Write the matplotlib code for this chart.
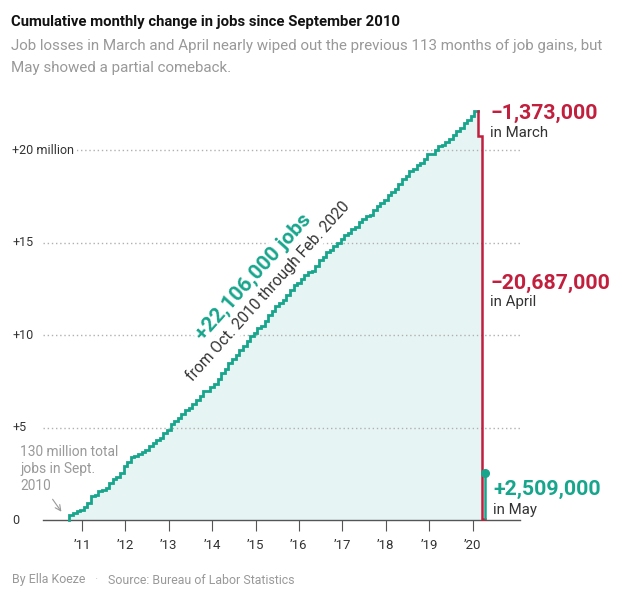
import numpy as np
import matplotlib.pyplot as plt

# monthly change in payroll jobs, thousands (Oct 2010 - May 2020)
gains_2010 = [264, 130, 88]
gains_2011 = [42, 178, 225, 346, 77, 225, 69, 110, 246, 202, 146, 209]
gains_2012 = [358, 237, 233, 78, 115, 76, 143, 177, 203, 146, 132, 244]
gains_2013 = [190, 311, 135, 192, 218, 176, 139, 236, 185, 196, 272, 45]
gains_2014 = [187, 168, 272, 330, 236, 286, 249, 213, 250, 221, 275, 261]
gains_2015 = [164, 265, 98, 278, 338, 191, 291, 158, 150, 307, 229, 267]
gains_2016 = [126, 234, 231, 163, 46, 245, 332, 159, 255, 136, 202, 153]
gains_2017 = [246, 191, 115, 197, 145, 229, 190, 186, 18, 265, 217, 171]
gains_2018 = [176, 262, 157, 175, 251, 285, 165, 283, 91, 241, 103, 216]
gains_2019 = [268, 1, 201, 194, 66, 185, 153, 223, 199, 171, 261, 184]
gains_2020 = [214, 251]
pandemic = [-1373, -20687, 2509]   # March, April, May 2020

year_ticks = list(range(2011, 2021))
year_labels = ["\u2019" + str(y)[2:] for y in year_ticks]
y_ticks = [5, 10, 15, 20]
y_labels = ["+5", "+10", "+15", "+20 million"]

teal = "#17a58c"
red = "#c11f3d"
fill_c = "#e6f5f3"
gray = "#999999"
dark = "#333333"

plt.rcParams['font.family'] = ['Roboto', 'DejaVu Sans']

all_gains = (gains_2010 + gains_2011 + gains_2012 + gains_2013 + gains_2014 + gains_2015
             + gains_2016 + gains_2017 + gains_2018 + gains_2019 + gains_2020 + pandemic)
cum = np.concatenate([[0], np.cumsum(all_gains)]) / 1000.0
# mid-month positions starting Sept 2010
t = 2010 + (8 + np.arange(len(cum)) + 0.5) / 12
feb = len(cum) - 4   # index of Feb 2020

W, H = 622, 596
fig = plt.figure(figsize=(W / 100, H / 100), dpi=100)
renderer = fig.canvas.get_renderer()


def fx(px):
    return px / W


def fy(py):
    return 1 - py / H


def fit(s, width_px, weight='normal'):
    # font size that makes the string about width_px wide
    tmp = fig.text(0, 0, s, fontsize=10, fontweight=weight)
    w = tmp.get_window_extent(renderer).width
    tmp.remove()
    return 10 * width_px / w


# axes: x pixels 43..520, y=0 at pixel 520, 18.5 px per million
top_px = 100
ax = fig.add_axes([fx(43), fy(520), fx(520) - fx(43), fy(top_px) - fy(520)])
ax.set_xlim(2011 - (82 - 43) / 43.4, 2011 + (520 - 82) / 43.4)
ax.set_ylim(0, (520 - top_px) / 18.5)

ax.fill_between(t[:feb + 2], cum[:feb + 2], step='pre', color=fill_c, lw=0, zorder=1)
for yv in y_ticks:
    ax.axhline(yv, color="#b0b0b0", lw=1, ls=(0, (1, 2)), zorder=1.5)

ax.plot(t[:feb + 1], cum[:feb + 1], drawstyle='steps-pre', color=teal, lw=2,
        zorder=3, clip_on=False, solid_joinstyle='miter')
ax.plot(t[feb:feb + 3], cum[feb:feb + 3], drawstyle='steps-pre', color=red, lw=1.8,
        zorder=3, clip_on=False, solid_joinstyle='miter')
ax.vlines(t[feb + 2], cum[feb + 2], cum[feb + 3], color=teal, lw=1.8, zorder=3)
ax.plot([t[feb + 2]], [cum[feb + 3]], 'o', color=teal, ms=5.5, zorder=4, clip_on=False)

for s in ['top', 'right', 'left']:
    ax.spines[s].set_visible(False)
ax.spines['bottom'].set_color("#555555")
ax.spines['bottom'].set_linewidth(1)
ax.spines['bottom'].set_zorder(2.5)
ax.set_yticks([])
ax.set_xticks(year_ticks)
ax.set_xticklabels(year_labels, fontsize=9.5, color=dark)
ax.tick_params(axis='x', length=8, width=0.8, color="#555555", pad=6)

# y labels
ysize = fit("+20 million", 61)
ax.text(fx(12), fy(520), "0", transform=fig.transFigure, ha='left', va='center',
        fontsize=ysize, color=dark)
for yv, lab in zip(y_ticks, y_labels):
    ax.text(fx(12), fy(520 - yv * 18.5), lab, transform=fig.transFigure, ha='left',
            va='center', fontsize=ysize, color=dark, zorder=2,
            bbox=dict(facecolor='white', edgecolor='none', pad=2))

# rotated annotation
ax.text(fx(253), fy(277), "+22,106,000 jobs", transform=fig.transFigure, rotation=48,
        ha='center', va='center', fontsize=fit("+22,106,000 jobs", 162, 'bold'),
        fontweight='bold', color=teal, zorder=2, rotation_mode='anchor',
        bbox=dict(facecolor='white', edgecolor='none', pad=1))
ax.text(fx(268), fy(291), "from Oct. 2010 through Feb. 2020", transform=fig.transFigure,
        rotation=48, ha='center', va='center',
        fontsize=fit("from Oct. 2010 through Feb. 2020", 234), color=dark, zorder=2,
        rotation_mode='anchor', bbox=dict(facecolor='white', edgecolor='none', pad=1))

# start annotation
ax.text(fx(20), fy(445), "130 million total\njobs in Sept.\n2010", transform=fig.transFigure,
        ha='left', va='top', fontsize=fit("130 million total", 98), color=gray,
        linespacing=1.25)
ax.annotate("", xy=(fx(63), fy(514)), xytext=(fx(51), fy(497)),
            xycoords='figure fraction', textcoords='figure fraction',
            arrowprops=dict(arrowstyle='->', color=gray, lw=0.8))

# right-hand labels
big = fit("\u221220,687,000", 119, 'bold')
small = fit("in March", 58)
ax.text(fx(490), fy(113), "\u22121,373,000", transform=fig.transFigure, ha='left',
        va='center', fontsize=big, fontweight='bold', color=red)
ax.text(fx(490), fy(133), "in March", transform=fig.transFigure, ha='left',
        va='center', fontsize=small, color=dark)
ax.text(fx(490), fy(283), "\u221220,687,000", transform=fig.transFigure, ha='left',
        va='center', fontsize=big, fontweight='bold', color=red)
ax.text(fx(490), fy(302), "in April", transform=fig.transFigure, ha='left',
        va='center', fontsize=small, color=dark)
ax.text(fx(493), fy(489), "+2,509,000", transform=fig.transFigure, ha='left',
        va='center', fontsize=big, fontweight='bold', color=teal)
ax.text(fx(493), fy(510), "in May", transform=fig.transFigure, ha='left',
        va='center', fontsize=small, color=dark)

# titles
title = "Cumulative monthly change in jobs since September 2010"
sub1 = "Job losses in March and April nearly wiped out the previous 113 months of job gains, but"
fig.text(fx(11), fy(22), title, ha='left', va='center',
         fontsize=fit(title, 390, 'bold'), fontweight='bold', color="#121212")
subsize = fit(sub1, 596)
fig.text(fx(11), fy(46), sub1, ha='left', va='center', fontsize=subsize, color=gray)
fig.text(fx(11), fy(68), "May showed a partial comeback.", ha='left', va='center',
         fontsize=subsize, color=gray)

# footer
src = "Source: Bureau of Labor Statistics"
fsize = fit(src, 187)
fig.text(fx(12), fy(580), "By Ella Koeze", ha='left', va='center', fontsize=fsize, color=gray)
fig.text(fx(96), fy(580), "\u00b7", ha='center', va='center', fontsize=fsize, color="#cccccc")
fig.text(fx(108), fy(580), src, ha='left', va='center', fontsize=fsize, color=gray)

fig.savefig("out.png", dpi=100)
